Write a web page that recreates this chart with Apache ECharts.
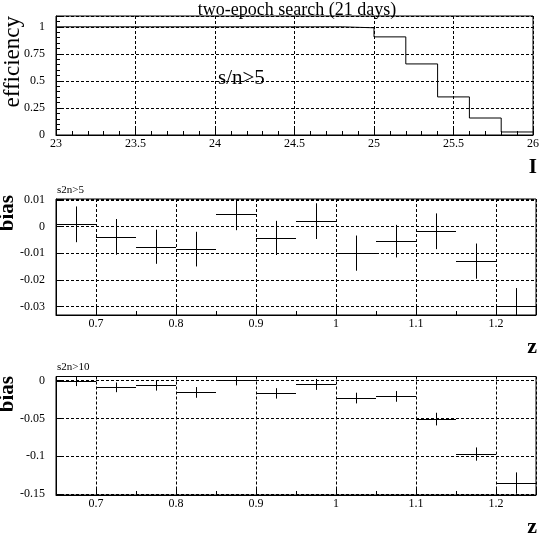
<!DOCTYPE html>
<html>
<head>
<meta charset="utf-8">
<title>two-epoch search (21 days)</title>
<script src="https://cdn.jsdelivr.net/npm/echarts@6/dist/echarts.min.js"></script>
<style>
html,body{margin:0;padding:0;background:#fff;}
#main{width:542px;height:534px;}
</style>
</head>
<body>
<div id="main"></div>
<script>
// efficiency vs I magnitude, bin edges (last one closes the histogram)
var magEdges=[23.0,23.2,23.4,23.6,23.8,24.0,24.2,24.4,24.6,24.8,25.0,25.2,25.4,25.6,25.8,26.0];
var efficiency=[1,1,1,1,1,1,1,1,1,0.991,0.907,0.657,0.352,0.157,0.028];

// bias vs redshift, bin centres
var zCenters=[0.675,0.725,0.775,0.825,0.875,0.925,0.975,1.025,1.075,1.125,1.175,1.225];
var zHalfWidth=0.025;
// s2n>5
var bias5=[0.0008,-0.0039,-0.0076,-0.0085,0.0047,-0.0043,0.0020,-0.0100,-0.0055,-0.0018,-0.0130,-0.0299];
var bias5Err=[0.0067,0.0067,0.0064,0.0065,0.0061,0.0064,0.0067,0.0066,0.0061,0.0067,0.0066,0.0068];
// s2n>10
var bias10=[0.0000,-0.0088,-0.0062,-0.0155,0.0004,-0.0168,-0.0049,-0.0230,-0.0208,-0.0509,-0.0973,-0.1358];
var bias10Err=[0.0071,0.0064,0.0069,0.0071,0.0066,0.0069,0.0073,0.0071,0.0071,0.0084,0.0088,0.0142];

var FONT='Liberation Serif';
var Y5=[-0.0332,0.0103];
var Y10=[-0.1516,0.0056];

// only label ticks that sit on the step
function onStep(step){
    return function(v){
        var k=v/step;
        if(Math.abs(k-Math.round(k))>1e-6) return '';
        return String(parseFloat(v.toPrecision(10)));
    };
}
function axisStyle(o,step,minorSplit,isY){
    o.axisLine={show:true,onZero:false,lineStyle:{color:'#000',width:1}};
    o.axisTick={show:true,inside:true,length:8,lineStyle:{color:'#000',width:1}};
    o.minorTick={show:minorSplit>0,splitNumber:minorSplit||5,length:4,lineStyle:{color:'#000',width:1}};
    o.splitLine={show:true,lineStyle:{color:'#000',width:1,type:[3,2]}};
    o.minorSplitLine={show:false};
    o.axisLabel={color:'#000',fontFamily:FONT,fontSize:12,margin:isY?11:3,formatter:onStep(step)};
    return o;
}
// error cross: horizontal bin width + vertical error, clipped to frame
function errBars(yr){
    return function(params,api){
        var x=api.value(0),y=api.value(1),e=api.value(2);
        var hi=Math.min(y+e,yr[1]),lo=Math.max(y-e,yr[0]);
        var l=api.coord([x-zHalfWidth,y]),r=api.coord([x+zHalfWidth,y]);
        var t=api.coord([x,hi]),b=api.coord([x,lo]);
        var px=function(v){return Math.round(v)+0.5;};
        return {type:'group',children:[
            {type:'line',shape:{x1:l[0],y1:px(l[1]),x2:r[0],y2:px(r[1])},style:{stroke:'#000',lineWidth:1}},
            {type:'line',shape:{x1:px(t[0]),y1:t[1],x2:px(b[0]),y2:b[1]},style:{stroke:'#000',lineWidth:1}}
        ]};
    };
}

var stepData=magEdges.map(function(m,i){
    return [m,efficiency[Math.min(i,efficiency.length-1)]];
});
var d5=zCenters.map(function(z,i){return [z,bias5[i],bias5Err[i]];});
var d10=zCenters.map(function(z,i){return [z,bias10[i],bias10Err[i]];});

var myChart=echarts.init(document.getElementById('main'));
var option={
    animation:false,
    backgroundColor:'#fff',
    textStyle:{fontFamily:FONT,color:'#000'},
    grid:[
        {left:56,top:16,width:480,height:119,show:true,borderColor:'#000',borderWidth:1},
        {left:56,top:199,width:480,height:116,show:true,borderColor:'#000',borderWidth:1},
        {left:56,top:376.5,width:480,height:118.5,show:true,borderColor:'#000',borderWidth:1}
    ],
    xAxis:[
        axisStyle({type:'value',gridIndex:0,min:23,max:26,interval:0.5},0.5,5,false),
        axisStyle({type:'value',gridIndex:1,min:0.65,max:1.25,splitNumber:6},0.1,2,false),
        axisStyle({type:'value',gridIndex:2,min:0.65,max:1.25,splitNumber:6},0.1,2,false)
    ],
    yAxis:[
        axisStyle({type:'value',gridIndex:0,min:0,max:1.1,interval:0.25},0.25,5,true),
        axisStyle({type:'value',gridIndex:1,min:Y5[0],max:Y5[1],splitNumber:4},0.01,0,true),
        axisStyle({type:'value',gridIndex:2,min:Y10[0],max:Y10[1],splitNumber:3},0.05,0,true)
    ],
    series:[
        {type:'line',xAxisIndex:0,yAxisIndex:0,step:'end',data:stepData,showSymbol:false,
         lineStyle:{color:'#000',width:1}},
        {type:'custom',xAxisIndex:1,yAxisIndex:1,renderItem:errBars(Y5),data:d5},
        {type:'custom',xAxisIndex:2,yAxisIndex:2,renderItem:errBars(Y10),data:d10}
    ],
    graphic:[
        {type:'text',x:297,y:10,style:{text:'two-epoch search (21 days)',font:'18px '+FONT,fill:'#000',align:'center',verticalAlign:'middle'}},
        {type:'text',x:13,y:16,rotation:Math.PI/2,style:{text:'efficiency',font:'23px '+FONT,fill:'#000',align:'right',verticalAlign:'middle'}},
        {type:'text',x:537,y:168,style:{text:'I',font:'bold 21px '+FONT,fill:'#000',align:'right',verticalAlign:'middle'}},
        {type:'text',x:218,y:78,style:{text:'s/n>5',font:'21px '+FONT,fill:'#000',align:'left',verticalAlign:'middle'}},
        {type:'text',x:57,y:190,style:{text:'s2n>5',font:'11px '+FONT,fill:'#000',align:'left',verticalAlign:'middle'}},
        {type:'text',x:8,y:195,rotation:Math.PI/2,style:{text:'bias',font:'bold 21px '+FONT,fill:'#000',align:'right',verticalAlign:'middle'}},
        {type:'text',x:537,y:347,style:{text:'z',font:'bold 22px '+FONT,fill:'#000',align:'right',verticalAlign:'middle'}},
        {type:'text',x:57,y:367,style:{text:'s2n>10',font:'11px '+FONT,fill:'#000',align:'left',verticalAlign:'middle'}},
        {type:'text',x:8,y:376,rotation:Math.PI/2,style:{text:'bias',font:'bold 21px '+FONT,fill:'#000',align:'right',verticalAlign:'middle'}},
        {type:'text',x:537,y:527,style:{text:'z',font:'bold 22px '+FONT,fill:'#000',align:'right',verticalAlign:'middle'}}
    ]
};
myChart.setOption(option);
</script>
</body>
</html>
